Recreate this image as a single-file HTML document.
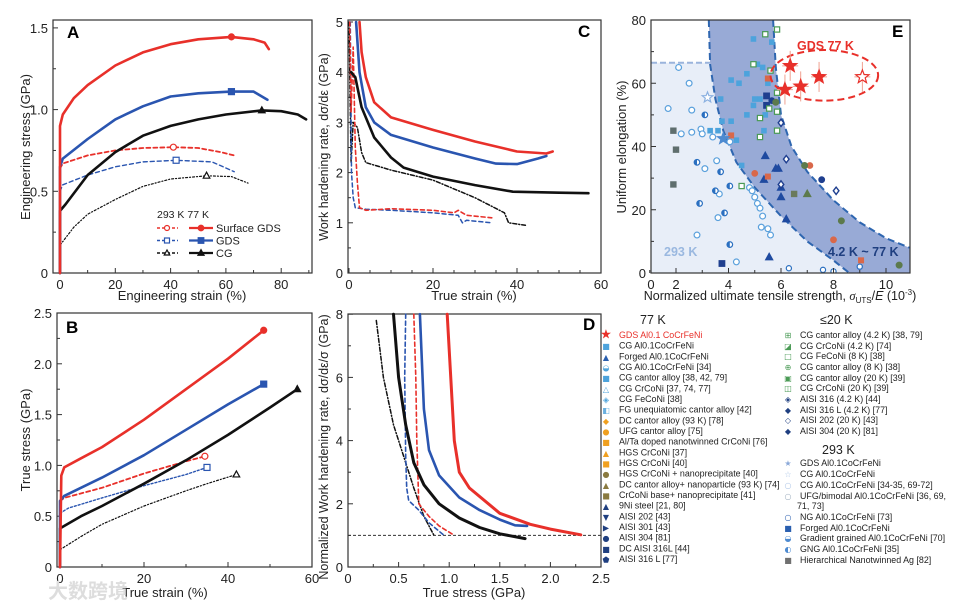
<!DOCTYPE html>
<html><head><meta charset="utf-8"><style>
html,body{margin:0;padding:0;background:#fff;}
svg{display:block;font-family:"Liberation Sans","Noto Sans CJK SC",sans-serif;}
</style></head><body>
<svg id="fig" width="963" height="609" viewBox="0 0 963 609" xmlns="http://www.w3.org/2000/svg"></svg>
<script>
// ---------- Panel A data (engineering strain %, stress GPa) ----------
const aSgds77X=[0,0,1,5,10,20,30,40,50,62,70,74,75.5];
const aSgds77Y=[0,0.9,0.97,1.07,1.15,1.27,1.35,1.40,1.43,1.445,1.43,1.41,1.37];
const aGds77X=[0,0,1,10,20,30,40,50,62,70,75];
const aGds77Y=[0,0.65,0.70,0.82,0.94,1.02,1.08,1.10,1.11,1.11,1.06];
const aCg77X=[0,0,2,10,20,30,40,50,60,73,80,86,89];
const aCg77Y=[0,0.38,0.42,0.6,0.74,0.84,0.9,0.94,0.97,0.995,0.99,0.97,0.94];
const aSgds293X=[0,1,10,20,30,41,50,58,63];
const aSgds293Y=[0.64,0.67,0.72,0.75,0.765,0.77,0.765,0.74,0.72];
const aGds293X=[0,1,10,20,30,42,55,63];
const aGds293Y=[0.5,0.54,0.6,0.65,0.68,0.69,0.68,0.62];
const aCg293X=[0,0,5,10,20,30,40,53,62,68];
const aCg293Y=[0,0.17,0.28,0.36,0.45,0.53,0.575,0.595,0.59,0.55];
const aMarkX=[62,62,73,41,42,53];
const aMarkY=[1.445,1.11,0.995,0.77,0.69,0.595];
const aXTicks=[0,20,40,60,80];
const aYTicks=[0,0.5,1.0,1.5];
// ---------- Panel B data (true strain %, true stress GPa) ----------
const bSgds77X=[0,0.3,1,5,10,20,30,40,48.5];
const bSgds77Y=[0,0.9,0.98,1.07,1.18,1.45,1.75,2.05,2.33];
const bGds77X=[0,0,1,10,20,30,40,48.5];
const bGds77Y=[0,0.65,0.7,0.88,1.1,1.35,1.6,1.80];
const bCg77X=[0,0,5,10,20,30,40,50,56.5];
const bCg77Y=[0,0.38,0.5,0.6,0.82,1.05,1.3,1.57,1.75];
const bSgds293X=[0,1,10,20,30,34.5];
const bSgds293Y=[0.65,0.68,0.78,0.92,1.04,1.09];
const bGds293X=[0,2,10,20,30,35];
const bGds293Y=[0.53,0.58,0.68,0.8,0.91,0.98];
const bCg293X=[0,0,5,10,20,30,35,42];
const bCg293Y=[0,0.17,0.30,0.42,0.6,0.75,0.82,0.91];
const bMarkX=[48.5,48.5,56.5,34.5,35,42];
const bMarkY=[2.33,1.80,1.75,1.09,0.98,0.91];
const bXTicks=[0,20,40,60];
const bYTicks=[0,0.5,1.0,1.5,2.0,2.5];
// ---------- Panel C data (true strain %, dσ/dε GPa) ----------
const cSgds77X=[2.5,3,4,6,10,20,30,40,47,48.5];
const cSgds77Y=[5,4.4,3.9,3.4,3.1,2.85,2.62,2.42,2.38,2.42];
const cGds77X=[1.7,2.5,4,6,10,20,30,35,40,45,47];
const cGds77Y=[5,4,3.3,3.0,2.75,2.5,2.28,2.18,2.17,2.28,2.33];
const cCg77X=[0.5,1.5,3,6,10,13,20,30,39,50,57];
const cCg77Y=[4,3.9,3.3,2.7,2.3,2.1,1.92,1.75,1.62,1.6,1.59];
const cSgds293X=[0.2,0.5,1,1.5,2,2.5,4,10,20,25,26,28,34];
const cSgds293Y=[5,3.2,4.5,2.5,1.8,1.3,1.25,1.28,1.25,1.2,1.25,1.15,1.1];
const cGds293X=[0.3,0.6,1,1.5,4,10,20,26,27,28,34];
const cGds293Y=[5,2,1.5,1.3,1.27,1.25,1.2,1.15,1.0,1.05,1.0];
const cCg293X=[0,0.5,1,2,3,4,10,20,30,37,38,42];
const cCg293Y=[5,2.2,3.0,2.9,2.4,2.2,2.05,1.85,1.5,1.2,1.0,0.95];
const cXTicks=[0,20,40,60];
const cYTicks=[0,1,2,3,4,5];
// ---------- Panel D data (true stress GPa, normalized rate) ----------
const dSgds77X=[0.98,1.05,1.1,1.2,1.5,1.8,2.0,2.3];
const dSgds77Y=[8,4,3,2.5,1.7,1.35,1.2,1.02];
const dGds77X=[0.71,0.75,0.8,0.9,1.1,1.3,1.5,1.65,1.77];
const dGds77Y=[8,5,3.7,2.9,2.2,1.8,1.5,1.32,1.3];
const dCg77X=[0.45,0.5,0.57,0.65,0.75,0.9,1.1,1.3,1.5,1.75];
const dCg77Y=[8,6,4.5,3.3,2.6,2.0,1.55,1.25,1.05,0.9];
const dSgds293X=[0.65,0.67,0.68,0.69,0.7,0.8,0.9,1.05];
const dSgds293Y=[8,6,4,3,2,1.6,1.3,1.0];
const dGds293X=[0.57,0.56,0.57,0.58,0.6,0.7,0.8,0.95];
const dGds293Y=[8,6,3.5,2.5,2.1,1.8,1.4,1.0];
const dCg293X=[0.28,0.35,0.45,0.55,0.65,0.75,0.85];
const dCg293Y=[7.8,6,4.5,3.5,2.5,1.6,1.0];
const dRefY=[1];
const dXTicks=[0,0.5,1.0,1.5,2.0,2.5];
const dXTickLabels=["0","0.5","1.0","1.5","2.0","2.5"];
const dYTicks=[0,2,4,6,8];
// ---------- Panel E data (σUTS/E 1e-3, uniform elongation %) ----------
const eDarkLeftX=[3.25,3.3,3.5,3.8,4.3,5,6,7,8,8.6];
const eDarkLeftY=[80,66,55,45,35,27,18,10,4,0];
const eDarkRightX=[5.7,5.8,6,6.4,7,8,9,10,10.9];
const eDarkRightY=[80,65,50,40,32,23,16,11,8];
const eStarX=[6.15,6.35,6.75,7.45];
const eStarY=[58,65.5,59,62];
const eOpenStarX=[9.1];const eOpenStarY=[62];
const eCircX=[1.7,2.1,2.5,2.6,2.2,2.6,2.95,3.0,3.4,3.1,3.55,3.6,3.65,4.05,4.8,4.9,5.0,5.1,5.2,5.3,5.25,5.5,4.3,2.8,5.6];
const eCircY=[52,65,60,51.5,44,44.5,45.5,44,43,33,35.5,17.5,25,41.5,27,26,24,22,20.5,18,14.5,14,3.5,12,12];
const eHalfX=[3.1,2.8,2.9,3.5,3.7,3.85,4.05,4.05];
const eHalfY=[50,35,22,26,32,19,27.5,9];
const eNgX=[6.3,7.6,8.0,9.0];const eNgY=[1.5,1,0.5,2];
const eGrayX=[1.9,2.0,1.9];const eGrayY=[45,39,28];
const eLbSqX=[4.1,4.4,3.7,3.75,4.1,4.3,4.5,4.95,5.1,5.3,4.7,5.0,5.2,5.4,5.5,4.7,5.65,5.35,4.95,3.3,3.6];
const eLbSqY=[61,60,55,48,48,42,34,74,66,65,63,55,55,50,60,50,73,45,53,45,45];
const eNavySqX=[5.45,5.45,3.75];const eNavySqY=[56,53,3];
const eGreenSqX=[5.2,5.2,5.55,5.85,5.85,5.6,5.4,5.85,5.85,4.5,4.95];
const eGreenSqY=[49,43,52,51,57,64,75.5,77,45,27.5,66];
const eTriX=[5.4,5.35,5.8,5.9,6.0,6.0,6.2,5.55];
const eTriY=[37,29.5,33,33,27,24,17,5];
const eDiaX=[6.0,6.2,6.0,8.1];const eDiaY=[47.5,36,28,26];
const eNavyDotX=[7.55,5.65];const eNavyDotY=[29.5,54.5];
const eOrCircX=[5.0,7.1,8.0];const eOrCircY=[31.5,34,10.5];
const eOrSqX=[4.1,5.5,5.5,9.05];const eOrSqY=[43.5,30.5,61.5,4];
const eOlDotX=[6.9,5.8,8.3,10.5];const eOlDotY=[34,54,16.5,2.5];
const eOlTriX=[7.0];const eOlTriY=[25];
const eOlSqX=[6.5];const eOlSqY=[25];
const eXTicks=[2,4,6,8,10];
const eYTicks=[0,20,40,60,80];

const NS="http://www.w3.org/2000/svg";
const svg=document.getElementById('fig');
function mk(tag,attrs,parent){const e=document.createElementNS(NS,tag);for(const k in attrs)e.setAttribute(k,attrs[k]);(parent||svg).appendChild(e);return e;}
function txt(s,x,y,attrs,parent){const t=mk('text',Object.assign({x:x,y:y,'font-size':13,fill:'#222'},attrs||{}),parent);t.textContent=s;return t;}

function panel(L,R,T,B,x0,xs,y0,ys){return {L,R,T,B,X:v=>x0+v*xs,Y:v=>y0-v*ys};}
const PA=panel(53,312,20,273,60,2.765,273,163.4);
const PB=panel(57,312,313,567,60,4.2,567,101.6);
const PC=panel(348,601,20,273,349,4.2,273,50.2);
const PD=panel(348,601,314,567,348,101.2,567,31.6);
const PE=panel(651,910,20,273,676-2*26.25,26.25,273,3.1625);

function frame(P,name){const r=mk('rect',{x:P.L,y:P.T,width:P.R-P.L,height:P.B-P.T,fill:'none',stroke:'#333','stroke-width':1.2});

}
function axes(P,xt,xl,yt,yl,name,xminor,yminor){
  const g=mk('g',{});
  
  
  xt.forEach((v,i)=>{const x=P.X(v);mk('line',{x1:x,x2:x,y1:P.B,y2:P.B-5,stroke:'#333'},g);
    const t=txt(xl[i],x,P.B+16,{'text-anchor':'middle'},g);
    
    });
  yt.forEach((v,i)=>{const y=P.Y(v);mk('line',{x1:P.L,x2:P.L+5,y1:y,y2:y,stroke:'#333'},g);
    const t=txt(yl[i],P.L-5,y+5,{'text-anchor':'end'},g);
    
    });
  (xminor||[]).forEach(v=>{const x=P.X(v);mk('line',{x1:x,x2:x,y1:P.B,y2:P.B-3,stroke:'#333'},g);});
  (yminor||[]).forEach(v=>{const y=P.Y(v);mk('line',{x1:P.L,x2:P.L+3,y1:y,y2:y,stroke:'#333'},g);});
}
function series(P,xs,ys,color,w,dash,name){
  const d=xs.map((v,i)=>(i?'L':'M')+P.X(v).toFixed(1)+','+P.Y(ys[i]).toFixed(1)).join(' ');
  const p=mk('path',{d:d,fill:'none',stroke:color,'stroke-width':w,'stroke-dasharray':dash||'none','stroke-linejoin':'round','stroke-linecap':'round'});
  
  
  return p;}
function marker(type,x,y,color,filled,s,parent){
  s=s||3.5;const f=filled?color:'#fff';let e;
  if(type==='c')e=mk('circle',{cx:x,cy:y,r:s,fill:f,stroke:color,'stroke-width':1.2},parent);
  else if(type==='s')e=mk('rect',{x:x-s,y:y-s,width:2*s,height:2*s,fill:f,stroke:color,'stroke-width':1.2},parent);
  else if(type==='t')e=mk('polygon',{points:`${x},${y-s*1.2} ${x-s*1.1},${y+s*0.8} ${x+s*1.1},${y+s*0.8}`,fill:f,stroke:color,'stroke-width':1.2},parent);
  else if(type==='d')e=mk('polygon',{points:`${x},${y-s*1.3} ${x+s},${y} ${x},${y+s*1.3} ${x-s},${y}`,fill:f,stroke:color,'stroke-width':1.4},parent);
  else if(type==='star'){let pts=[];for(let k=0;k<10;k++){const r=k%2?s*0.42:s;const a=-Math.PI/2+k*Math.PI/5;pts.push((x+r*Math.cos(a)).toFixed(1)+','+(y+r*Math.sin(a)).toFixed(1));}
    e=mk('polygon',{points:pts.join(' '),fill:f,stroke:color,'stroke-width':1.2},parent);}
  else if(type==='h'){const g=mk('g',{},parent);mk('circle',{cx:x,cy:y,r:s,fill:'#fff',stroke:color,'stroke-width':1.2},g);
    mk('path',{d:`M${x},${y-s} A${s},${s} 0 0 0 ${x},${y+s} Z`,fill:color},g);e=g;}
  return e;}

const RED='#e8302a',BLUE='#2a55b0',BLK='#111';
const W77=2.6,W293=1.6,DASH='4,3',DOT='3,2,1,2';

// ===== Panel A =====
frame(PA,'panel-a-frame');
axes(PA,aXTicks,aXTicks.map(String),aYTicks,['0','0.5','1.0','1.5'],'panel-a',[10,30,50,70,90],[0.25,0.75,1.25]);
series(PA,aCg293X,aCg293Y,BLK,1.2,'2,2,1,2','a-cg-293k-curve');
series(PA,aGds293X,aGds293Y,BLUE,1.4,DASH,'a-gds-293k-curve');
series(PA,aSgds293X,aSgds293Y,RED,1.8,DASH,'a-surface-gds-293k-curve');
series(PA,aCg77X,aCg77Y,BLK,W77,null,'a-cg-77k-curve');
series(PA,aGds77X,aGds77Y,BLUE,W77,null,'a-gds-77k-curve');
series(PA,aSgds77X,aSgds77Y,RED,W77,null,'a-surface-gds-77k-curve');
[['c',RED,1],['s',BLUE,1],['t',BLK,1],['c',RED,0],['s',BLUE,0],['t',BLK,0]].forEach((m,i)=>{
  const e=marker(m[0],PA.X(aMarkX[i]),PA.Y(aMarkY[i]),m[1],m[2],3);
  
  });
let t=txt('A',67,38,{'font-size':17,'font-weight':'bold',fill:'#000'});

t=txt('Engineering stress (GPa)',0,0,{'text-anchor':'middle',transform:'translate(30,147) rotate(-90)'});

t=txt('Engineering strain (%)',182,300,{'text-anchor':'middle'});

// legend A
const lg=mk('g',{});


txt('293 K   77 K',157,218,{'font-size':10.5},lg);
[['Surface GDS',RED,'c'],['GDS',BLUE,'s'],['CG',BLK,'t']].forEach((r,i)=>{const y=228+i*12.5;
  mk('line',{x1:157,x2:178,y1:y,y2:y,stroke:r[1],'stroke-width':1.5,'stroke-dasharray':'3,2'},lg);marker(r[2],167,y,r[1],0,2.5,lg);
  mk('line',{x1:189,x2:213,y1:y,y2:y,stroke:r[1],'stroke-width':2.2},lg);marker(r[2],201,y,r[1],1,2.8,lg);
  txt(r[0],216,y+4,{'font-size':11},lg);});

// ===== Panel B =====
frame(PB,'panel-b-frame');
axes(PB,bXTicks,bXTicks.map(String),bYTicks,['0','0.5','1.0','1.5','2.0','2.5'],'panel-b',[10,30,50],[0.25,0.75,1.25,1.75,2.25]);
series(PB,bCg293X,bCg293Y,BLK,1.2,'2,2,1,2','b-cg-293k-curve');
series(PB,bGds293X,bGds293Y,BLUE,1.4,'2,2','b-gds-293k-curve');
series(PB,bSgds293X,bSgds293Y,RED,1.8,DASH,'b-surface-gds-293k-curve');
series(PB,bCg77X,bCg77Y,BLK,W77,null,'b-cg-77k-curve');
series(PB,bGds77X,bGds77Y,BLUE,W77,null,'b-gds-77k-curve');
series(PB,bSgds77X,bSgds77Y,RED,W77,null,'b-surface-gds-77k-curve');
[['c',RED,1],['s',BLUE,1],['t',BLK,1],['c',RED,0],['s',BLUE,0],['t',BLK,0]].forEach((m,i)=>{
  const e=marker(m[0],PB.X(bMarkX[i]),PB.Y(bMarkY[i]),m[1],m[2],3);
  
  });
t=txt('B',66,333,{'font-size':17,'font-weight':'bold',fill:'#000'});

t=txt('True stress (GPa)',0,0,{'text-anchor':'middle',transform:'translate(30,440) rotate(-90)'});

t=txt('True strain (%)',165,597,{'text-anchor':'middle'});

t=txt('大数跨境',48,598,{'font-size':20,fill:'#ddd','font-weight':'bold'});


// ===== Panel C =====
frame(PC,'panel-c-frame');
axes(PC,cXTicks,cXTicks.map(String),cYTicks,cYTicks.map(String),'panel-c',[5,10,15,25,30,35,45,50,55],[0.5,1.5,2.5,3.5,4.5]);
series(PC,cCg293X,cCg293Y,BLK,1.5,'4,2,1,2','c-cg-293k-curve');
series(PC,cGds293X,cGds293Y,BLUE,1.5,DASH,'c-gds-293k-curve');
series(PC,cSgds293X,cSgds293Y,RED,1.6,DASH,'c-surface-gds-293k-curve');
series(PC,cCg77X,cCg77Y,BLK,W77,null,'c-cg-77k-curve');
series(PC,cGds77X,cGds77Y,BLUE,W77,null,'c-gds-77k-curve');
series(PC,cSgds77X,cSgds77Y,RED,W77,null,'c-surface-gds-77k-curve');
t=txt('C',578,37,{'font-size':17,'font-weight':'bold',fill:'#000'});

t=txt('Work hardening rate, dσ/dε (GPa)',0,0,{'text-anchor':'middle','font-size':12.5,transform:'translate(328,147) rotate(-90)'});

t=txt('True strain (%)',474,300,{'text-anchor':'middle'});


// ===== Panel D =====
frame(PD,'panel-d-frame');
axes(PD,dXTicks,dXTickLabels,dYTicks,dYTicks.map(String),'panel-d',[0.25,0.75,1.25,1.75,2.25],[1,3,5,7]);
const ref=mk('line',{x1:PD.L,x2:PD.R,y1:PD.Y(dRefY[0]),y2:PD.Y(dRefY[0]),stroke:'#333','stroke-width':1,'stroke-dasharray':'3,2'});

series(PD,dCg293X,dCg293Y,BLK,1.5,'4,2,1,2','d-cg-293k-curve');
series(PD,dGds293X,dGds293Y,BLUE,1.6,DASH,'d-gds-293k-curve');
series(PD,dSgds293X,dSgds293Y,RED,1.6,DASH,'d-surface-gds-293k-curve');
series(PD,dCg77X,dCg77Y,BLK,W77+0.4,null,'d-cg-77k-curve');
series(PD,dGds77X,dGds77Y,BLUE,W77,null,'d-gds-77k-curve');
series(PD,dSgds77X,dSgds77Y,RED,W77+0.4,null,'d-surface-gds-77k-curve');
t=txt('D',583,330,{'font-size':17,'font-weight':'bold',fill:'#000'});

t=txt('Normalized Work hardening rate, dσ/dε/σ (GPa)',0,0,{'text-anchor':'middle','font-size':12.5,transform:'translate(328,447) rotate(-90)'});

t=txt('True stress (GPa)',474,597,{'text-anchor':'middle'});


// ===== Panel E =====
const clip=mk('clipPath',{id:'eclip'});mk('rect',{x:PE.L,y:PE.T,width:PE.R-PE.L,height:PE.B-PE.T},clip);
const eg=mk('g',{'clip-path':'url(#eclip)'});

const leftPts=eDarkLeftX.map((v,i)=>PE.X(v).toFixed(1)+','+PE.Y(eDarkLeftY[i]).toFixed(1));
const lightPoly=[PE.X(0.9)+','+PE.Y(66.5),PE.X(3.3)+','+PE.Y(66.5)].concat(leftPts.slice(1)).concat([PE.X(0.9)+','+PE.Y(0)]);
const lp=mk('polygon',{points:lightPoly.join(' '),fill:'#e8eef8'},eg);

mk('line',{x1:PE.L,x2:PE.X(3.3),y1:PE.Y(66.5),y2:PE.Y(66.5),stroke:'#9ab4dc','stroke-width':2,'stroke-dasharray':'6,3'},eg);
const rightPts=eDarkRightX.map((v,i)=>PE.X(v).toFixed(1)+','+PE.Y(eDarkRightY[i]).toFixed(1));
const darkPoly=leftPts.concat([PE.X(11.2)+','+PE.Y(0),PE.X(11.2)+','+PE.Y(8)]).concat(rightPts.slice().reverse());
const dp=mk('polygon',{points:darkPoly.join(' '),fill:'#98aad6'},eg);

mk('polyline',{points:leftPts.join(' '),fill:'none',stroke:'#2e66b0','stroke-width':2,'stroke-dasharray':'7,4'},eg);
mk('polyline',{points:rightPts.join(' '),fill:'none',stroke:'#2e66b0','stroke-width':2,'stroke-dasharray':'7,4'},eg);
function scatter(xs,ys,type,color,filled,s,name){xs.forEach((v,i)=>{const e=marker(type,PE.X(v),PE.Y(ys[i]),color,filled,s,eg);
  
  });}
scatter(eCircX,eCircY,'c','#5aa0dc',0,2.9,'e-point-293k-circle');
scatter(eHalfX,eHalfY,'h','#2a6fc0',0,2.8,'e-point-293k-half');
scatter(eNgX,eNgY,'c','#2a6fc0',0,2.6,'e-point-ng');
scatter(eGrayX,eGrayY,'s','#5f6e6e',1,2.6,'e-point-ag');
scatter(eLbSqX,eLbSqY,'s','#4da3dc',1,2.2,'e-point-cg-77k');
scatter(eNavySqX,eNavySqY,'s','#1f3f8f',1,2.8,'e-point-navy-square');
scatter(eGreenSqX,eGreenSqY,'s','#4a9a55',0,2.6,'e-point-20k');
scatter(eTriX,eTriY,'t','#1f4aa0',1,3.2,'e-point-triangle');
scatter(eDiaX,eDiaY,'d','#1f3f8f',0,2.8,'e-point-diamond');
scatter(eNavyDotX,eNavyDotY,'c','#1f3f8f',1,2.8,'e-point-navy-dot');
scatter(eOrCircX,eOrCircY,'c','#d9684a',1,2.8,'e-point-orange-circle');
scatter(eOrSqX,eOrSqY,'s','#d9684a',1,2.4,'e-point-orange-square');
scatter(eOlDotX,eOlDotY,'c','#5c7a4c',1,2.9,'e-point-olive-dot');
scatter(eOlTriX,eOlTriY,'t','#5c7a4c',1,3.2,'e-point-olive-triangle');
scatter(eOlSqX,eOlSqY,'s','#6a7a5c',1,2.6,'e-point-olive-square');
marker('star',PE.X(3.8),PE.Y(42.5),'#4d8ad0',1,6,eg);
marker('star',PE.X(3.2),PE.Y(55.5),'#8ab0e0',0,5.5,eg);
// GDS 77K ellipse and stars
const el=mk('ellipse',{cx:PE.X(7.65),cy:PE.Y(62.5),rx:2.05*26.25,ry:8*3.1625,fill:'none',stroke:RED,'stroke-width':2,'stroke-dasharray':'7,4'});

eStarX.concat(eOpenStarX).forEach((v,i)=>{const y=i<eStarX.length?eStarY[i]:eOpenStarY[0];const x=PE.X(v),yy=PE.Y(y);
  mk('line',{x1:x,x2:x,y1:yy-15,y2:yy+15,stroke:'#f0a090','stroke-width':1});
  mk('line',{x1:x-8,x2:x+8,y1:yy,y2:yy,stroke:'#f0a090','stroke-width':1});
  const e=marker('star',x,yy,RED,i<eStarX.length?1:0,7);
  
  });
frame(PE,'panel-e-frame');
axes(PE,eXTicks,eXTicks.map(String),eYTicks,eYTicks.map(String),'panel-e',[1,3,5,7,9],[10,30,50,70]);
t=txt('0',PE.L,PE.B+16,{'text-anchor':'middle'});
t=txt('E',892,37,{'font-size':17,'font-weight':'bold',fill:'#000'});

t=txt('GDS 77 K',797,50,{'font-size':12.5,'font-weight':'bold',fill:RED});

t=txt('293 K',664,256,{'font-size':12.5,'font-weight':'bold',fill:'#9ab8e0'});

t=txt('4.2 K ~ 77 K',828,256,{'font-size':12.5,'font-weight':'bold',fill:'#1f3f80'});

t=txt('Uniform elongation (%)',0,0,{'text-anchor':'middle',transform:'translate(626,147) rotate(-90)'});

const xt=mk('text',{x:780,y:300,'text-anchor':'middle','font-size':12.5,fill:'#222'});

xt.innerHTML='Normalized ultimate tensile strength, <tspan font-style="italic" font-family="Liberation Serif">σ</tspan><tspan font-size="8" dy="3">UTS</tspan><tspan dy="-3">/</tspan><tspan font-style="italic">E</tspan> (10<tspan font-size="8" dy="-5">-3</tspan><tspan dy="5">)</tspan>';

// ===== Legend for E =====
const legL=[['★','GDS Al0.1 CoCrFeNi','#e8302a',RED],['■','CG Al0.1CoCrFeNi','#4da3dc'],['▲','Forged Al0.1CoCrFeNi','#2a5fb0'],['◒','CG Al0.1CoCrFeNi [34]','#4da3dc'],['■','CG cantor alloy [38, 42, 79]','#4da3dc'],['△','CG CrCoNi [37, 74, 77]','#4da3dc'],['◈','CG FeCoNi [38]','#4da3dc'],['◧','FG unequiatomic cantor alloy  [42]','#6ab0e0'],['◆','DC cantor alloy (93 K) [78]','#f0a020'],['●','UFG cantor alloy [75]','#f0a020'],['■','Al/Ta doped nanotwinned CrCoNi [76]','#f0a020'],['▲','HGS CrCoNi [37]','#f0a020'],['■','HGS CrCoNi [40]','#f0a020'],['●','HGS CrCoNi + nanoprecipitate [40]','#8a7a40'],['▲','DC cantor alloy+ nanoparticle (93 K) [74]','#8a7a40'],['■','CrCoNi base+ nanoprecipitate [41]','#8a7a40'],['▲','9Ni steel  [21, 80]','#1f3f80'],['▼','AISI 202 [43]','#1f3f80'],['▶','AISI 301 [43]','#1f3f80'],['●','AISI 304 [81]','#1f3f80'],['■','DC AISI 316L [44]','#1f3f80'],['⬟','AISI 316 L [77]','#1f3f80']];
const legR=[['⊞','CG cantor alloy (4.2 K) [38, 79]','#4a9a55',335],['◪','CG CrCoNi (4.2 K) [74]','#4a9a55',346],['□','CG FeCoNi (8 K) [38]','#4a9a55',356],['⊕','CG cantor alloy (8 K) [38]','#4a9a55',367],['▣','CG cantor alloy (20 K) [39]','#4a9a55',378],['◫','CG CrCoNi (20 K) [39]','#4a9a55',388],['◈','AISI 316 (4.2 K) [44]','#1f3f80',399],['◆','AISI 316 L (4.2 K) [77]','#1f3f80',410],['◇','AISI 202 (20 K)  [43]','#1f3f80',420],['◆','AISI 304 (20 K) [81]','#1f3f80',431],
 ['★','GDS Al0.1CoCrFeNi','#8aa8d8',463],['☆','CG Al0.1CoCrFeNi','#b0c8e8',474],['○','CG Al0.1CoCrFeNi [34-35, 69-72]','#b0c8e8',485],['○','UFG/bimodal Al0.1CoCrFeNi [36, 69,','#a0b0c0',496],['','71, 73]','#222',506],['○','NG Al0.1CoCrFeNi [73]','#2a5fb0',517],['■','Forged Al0.1CoCrFeNi','#2a5fb0',528],['◒','Gradient grained Al0.1CoCrFeNi [70]','#4d8ad0',538],['◐','GNG Al0.1CoCrFeNi [35]','#4d8ad0',549],['■','Hierarchical Nanotwinned Ag [82]','#707070',560]];
const lgE=mk('g',{});


txt('77 K',640,324,{'font-size':12.5},lgE);
txt('≤20 K',820,324,{'font-size':12.5},lgE);
txt('293 K',822,454,{'font-size':12.5},lgE);
legL.forEach((r,i)=>{const y=335+i*10.67;
  txt(r[0],606,y+3.5,{'font-size':i===0?13:8,'text-anchor':'middle',fill:r[2],'font-family':'DejaVu Sans'},lgE);
  txt(r[1],619,y+3,{'font-size':8.9,fill:r[3]||'#222'},lgE);});
legR.forEach(r=>{const y=r[3];
  if(r[0])txt(r[0],788,y+3,{'font-size':8,'text-anchor':'middle',fill:r[2],'font-family':'DejaVu Sans'},lgE);
  txt(r[1],r[0]?800:797,y+3,{'font-size':8.9,fill:'#222'},lgE);});
</script>
</body></html>
